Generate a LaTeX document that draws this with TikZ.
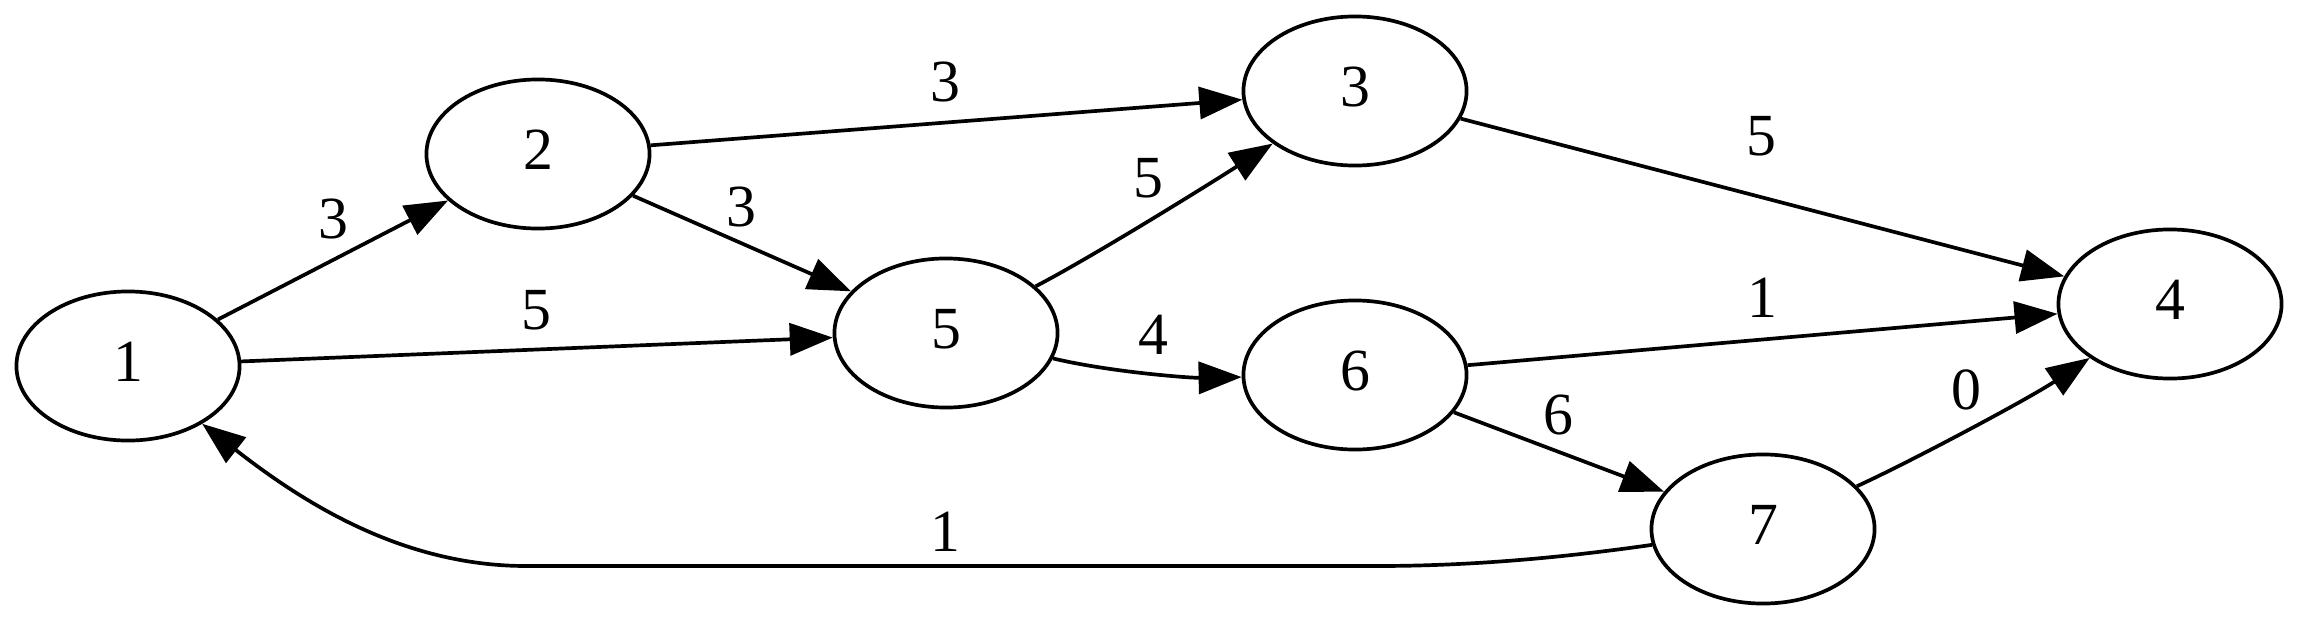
\documentclass[tikz,border=0pt]{standalone}
\usepackage{fontspec}
\setmainfont{Liberation Serif}
\usetikzlibrary{arrows.meta,shapes.geometric}
\begin{document}
\begin{tikzpicture}[x=0.01cm,y=-0.01cm,
  vertex/.style={draw,ellipse,line width=1.05pt,minimum width=2.23cm,minimum height=1.49cm,inner sep=0pt,text depth=0.08cm,font=\fontsize{17}{20}\selectfont},
  edge/.style={line width=1.05pt,-{Triangle[length=0.43cm,width=0.32cm]}},
  wlabel/.style={inner sep=0pt,font=\fontsize{17}{20}\selectfont}]
\useasboundingbox (0,0) rectangle (2300,621);
\node[vertex] (n1) at (128,366) {1};
\node[vertex] (n2) at (538,154) {2};
\node[vertex] (n3) at (1355,91) {3};
\node[vertex] (n5) at (946,333) {5};
\node[vertex] (n6) at (1355,375) {6};
\node[vertex] (n4) at (2170,304) {4};
\node[vertex] (n7) at (1763,529) {7};
\draw[edge] (n1) -- (n2);
\draw[edge] (n1) -- (n5);
\draw[edge] (n2) -- (n3);
\draw[edge] (n2) -- (n5);
\draw[edge] (n5) .. controls (1090,258) and (1200,190) .. (n3);
\draw[edge] (n5) .. controls (1110,372) and (1190,378) .. (n6);
\draw[edge] (n3) -- (n4);
\draw[edge] (n6) -- (n4);
\draw[edge] (n6) -- (n7);
\draw[edge] (n7) .. controls (1910,462) and (2030,398) .. (n4);
\draw[edge] (n7) .. controls (1560,558) and (1470,566) .. (1377,566) -- (526,566) .. controls (400,566) and (300,500) .. (n1);
\node[wlabel] (l12) at (333,219) {3};
\node[wlabel] (l15) at (536,310) {5};
\node[wlabel] (l23) at (945,82) {3};
\node[wlabel] (l25) at (741,207) {3};
\node[wlabel] (l53) at (1148,178) {5};
\node[wlabel] (l56) at (1153,335) {4};
\node[wlabel] (l34) at (1761,136) {5};
\node[wlabel] (l64) at (1762,298) {1};
\node[wlabel] (l67) at (1558,415) {6};
\node[wlabel] (l74) at (1966,390) {0};
\node[wlabel] (l71) at (945,532) {1};
\end{tikzpicture}
\end{document}
